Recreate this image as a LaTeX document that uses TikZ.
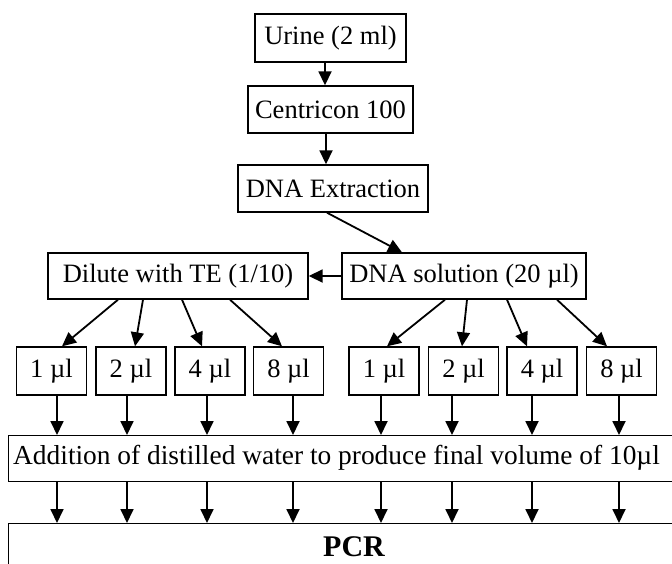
\documentclass[tikz,border=0pt]{standalone}
\usepackage{fontspec}
\setmainfont{Liberation Serif}
\usetikzlibrary{arrows.meta}
\begin{document}
\begin{tikzpicture}[x=1pt,y=-1pt,
  box/.style={draw,line width=1.4pt,inner sep=0pt,font=\fontsize{26.5}{30}\selectfont},
  arr/.style={line width=1.8pt,-{Triangle[length=14pt,width=13pt]}}]
\clip (0,0) rectangle (672,563);
\fill[white] (0,0) rectangle (672,563);
% top chain
\node[box,minimum width=151pt,minimum height=48pt] (urine) at (330.5,38) {Urine (2 ml)};
\node[box,minimum width=165pt,minimum height=47pt] (cent) at (330.5,109.5) {Centricon 100};
\node[box,minimum width=190pt,minimum height=47pt] (ext) at (333,188.5) {DNA Extraction};
\node[box,minimum width=260pt,minimum height=46pt] (dil) at (178,276) {Dilute with TE (1/10)};
\node[box,minimum width=244pt,minimum height=46pt] (sol) at (464,276) {DNA solution (20 µl)};
% small boxes
\foreach \n/\x/\t in {l1/51.5/1, l2/131/2, l3/210/4, l4/288.5/8, r1/384/1, r2/463.5/2, r3/542/4, r4/621.5/8}
  \node[box,minimum width=70pt,minimum height=48pt] (\n) at (\x,371) {\t\ µl};
% wide boxes
\node[draw,line width=1.4pt,minimum width=690pt,minimum height=46pt,anchor=north west,inner sep=0pt] (add) at (8,435) {};
\node[font=\fontsize{27.4}{32}\selectfont,anchor=west,inner sep=0pt] (addt) at (13,458) {Addition of distilled water to produce final volume of 10µl};
\node[draw,line width=1.4pt,minimum width=690pt,minimum height=80pt,anchor=north west,inner sep=0pt] (pcr) at (8,523) {};
\node[font=\fontsize{30}{34}\selectfont\bfseries,inner sep=0pt] (pcrt) at (354,547) {PCR};
% arrows top
\draw[arr] ([xshift=-5.5pt]urine.south) -- ([xshift=-5.5pt]urine.south |- cent.north);
\draw[arr] ([xshift=-4.5pt]cent.south) -- ([xshift=-4.5pt]cent.south |- ext.north);
\draw[arr] ([xshift=-6pt]ext.south) -- ([xshift=-62pt]sol.north);
\draw[arr] (sol.west) -- (dil.east);
% fan-out arrows
\draw[arr] ([xshift=-60pt]dil.south) -- ([xshift=10.5pt]l1.north);
\draw[arr] ([xshift=-35pt]dil.south) -- ([xshift=4pt]l2.north);
\draw[arr] ([xshift=4pt]dil.south) -- ([xshift=-8pt]l3.north);
\draw[arr] ([xshift=52pt]dil.south) -- ([xshift=-6.5pt]l4.north);
\draw[arr] ([xshift=-19pt]sol.south) -- ([xshift=3pt]r1.north);
\draw[arr] ([xshift=3pt]sol.south) -- ([xshift=-1.5pt]r2.north);
\draw[arr] ([xshift=43pt]sol.south) -- ([xshift=-15pt]r3.north);
\draw[arr] ([xshift=93pt]sol.south) -- ([xshift=-14.5pt]r4.north);
% vertical arrows
\foreach \n/\d in {l1/5.5, l2/-4, l3/-3, l4/4.5, r1/-3, r2/-11.5, r3/-10, r4/-2.5} {
  \coordinate (v\n) at ([xshift=\d pt]\n.south);
  \draw[arr] (v\n) -- (v\n |- add.north);
  \draw[arr] (v\n |- add.south) -- (v\n |- pcr.north);
}
\end{tikzpicture}
\end{document}
